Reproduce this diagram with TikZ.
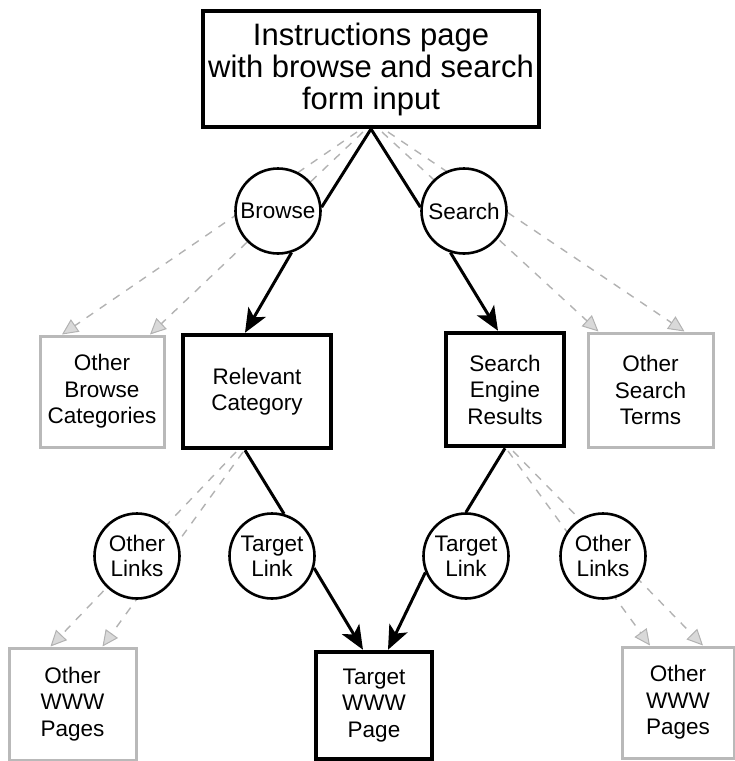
\documentclass[tikz,border=0pt]{standalone}
\usepackage{fontspec}
\setmainfont{Liberation Sans}
\usetikzlibrary{arrows.meta,calc}
\begin{document}
\begin{tikzpicture}[x=1pt,y=-1pt,
  topbox/.style={draw=black, line width=4pt, fill=white, align=center, inner sep=0pt,
    font=\fontsize{31}{32}\selectfont},
  mainbox/.style={draw=black, line width=4.5pt, fill=white, align=center, inner sep=0pt,
    font=\fontsize{22.5}{26.5}\selectfont},
  otherbox/.style={draw=gray!55, line width=3pt, fill=white, align=center, inner sep=0pt,
    font=\fontsize{22.5}{26.5}\selectfont},
  choice/.style={circle, draw=black, line width=2.6pt, fill=white, minimum size=85pt,
    inner sep=0pt, align=center, font=\fontsize{22.5}{25}\selectfont},
  solidlink/.style={line width=3pt},
  solidarrow/.style={line width=3pt, -{Stealth[length=24pt,width=20pt,inset=6pt]}},
  faint/.style={draw=gray!60, line width=1.4pt, dash pattern=on 8pt off 8pt,
    -{Triangle[length=16pt,width=15pt,fill=gray!30,color=gray!60,line width=1pt]}}]
\useasboundingbox (0,0) rectangle (735,761);

% boxes
\node[topbox, minimum width=336pt, minimum height=116pt] (top) at (371,69)
  {Instructions page\\with browse and search\\form input};
\node[otherbox, minimum width=124pt, minimum height=111pt] (obc) at (102,391.5)
  {Other\\Browse\\Categories};
\node[mainbox, minimum width=148pt, minimum height=113pt] (relcat) at (257,391.5)
  {Relevant\\Category};
\node[mainbox, minimum width=118pt, minimum height=113pt] (ses) at (505,389.5)
  {Search\\Engine\\Results};
\node[otherbox, minimum width=125pt, minimum height=114pt] (ost) at (650.5,390)
  {Other\\Search\\Terms};
\node[otherbox, minimum width=127pt, minimum height=112pt] (owl) at (72.5,704)
  {Other\\WWW\\Pages};
\node[mainbox, minimum width=116pt, minimum height=107pt] (twp) at (374,705.5)
  {Target\\WWW\\Page};
\node[otherbox, minimum width=112pt, minimum height=111pt] (owr) at (678,702.5)
  {Other\\WWW\\Pages};

% start points of the faint dashed connectors
\coordinate (d1) at (357,132);
\coordinate (d2) at (363,132);
\coordinate (d3) at (382,132);
\coordinate (d4) at (388,132);
\coordinate (d5) at (236,452);
\coordinate (d6) at (243,452);
\coordinate (d7) at (508,451);
\coordinate (d8) at (513,451);

% faint dashed connectors (drawn before circles so they pass behind)
\draw[faint] (d1) -- ([xshift=-40pt]obc.north);
\draw[faint] (d2) -- ([xshift=48pt]obc.north);
\draw[faint] (d3) -- ([xshift=-52pt]ost.north);
\draw[faint] (d4) -- ([xshift=34pt]ost.north);
\draw[faint] (d5) -- ([xshift=-22pt]owl.north);
\draw[faint] (d6) -- ([xshift=30pt]owl.north);
\draw[faint] (d7) -- ([xshift=-28pt]owr.north);
\draw[faint] (d8) -- ([xshift=25pt]owr.north);

% circles
\node[choice] (browse) at (278,211) {Browse};
\node[choice] (search) at (464,211) {Search};
\node[choice] (olL) at (137,556) {Other\\Links};
\node[choice] (tlL) at (272,556) {Target\\Link};
\node[choice] (tlR) at (466,556) {Target\\Link};
\node[choice] (olR) at (603,556) {Other\\Links};

% solid connectors
\draw[solidlink] (top.south) -- (browse.5);
\draw[solidarrow] (browse.-72) -- ([xshift=-12pt]relcat.north);
\draw[solidlink] (top.south) -- (search.175);
\draw[solidarrow] (search.-108) -- ([xshift=-7pt]ses.north);
\draw[solidlink] ([xshift=-12pt]relcat.south) -- (tlL.74);
\draw[solidarrow] (tlL.-16) -- ([xshift=-11pt]twp.north);
\draw[solidlink] (ses.south) -- (tlR.90);
\draw[solidarrow] (tlR.-158) -- ([xshift=14pt]twp.north);
\end{tikzpicture}
\end{document}
